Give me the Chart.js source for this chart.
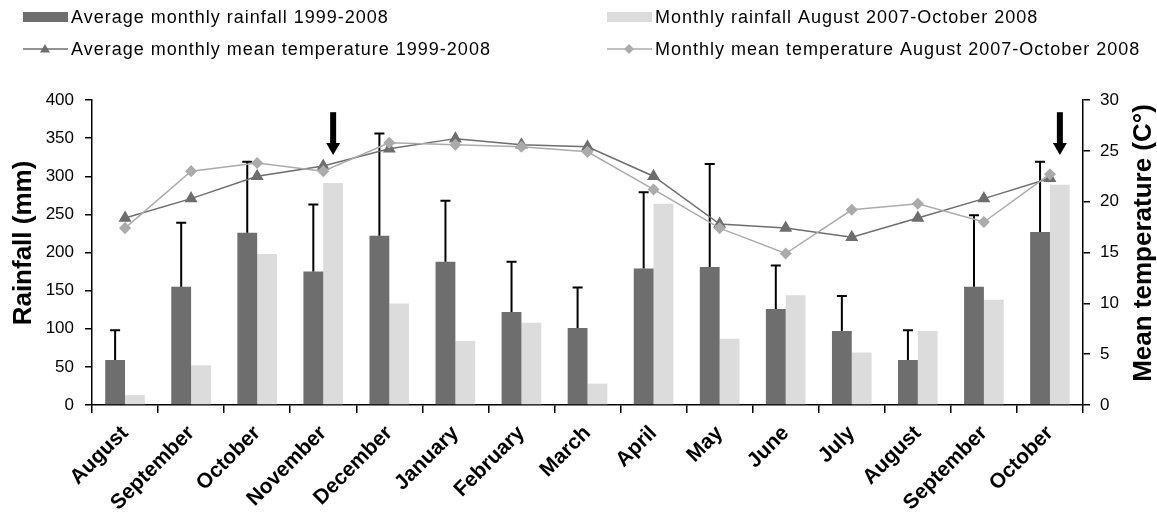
<!DOCTYPE html>
<html>
<head>
<meta charset="utf-8">
<script src="https://cdn.jsdelivr.net/npm/chart.js@4.4.1/dist/chart.umd.min.js"></script>
<style>
  html, body { margin: 0; padding: 0; background: #fff; }
</style>
</head>
<body>
<canvas id="myChart" width="1157" height="518"></canvas>
<script>
var months = ['August', 'September', 'October', 'November', 'December', 'January', 'February',
              'March', 'April', 'May', 'June', 'July', 'August', 'September', 'October'];
var avgRain    = [59, 155, 226, 175, 222, 188, 122, 101, 179, 181, 126, 97, 59, 155, 227];
var avgRainErr = [98, 239, 319, 263, 356, 268, 188, 154, 279, 316, 183, 143, 98, 249, 319];
var rain0708   = [13, 52, 198, 291, 133, 84, 108, 28, 264, 87, 144, 69, 97, 138, 289];
var avgTemp    = [18.4, 20.3, 22.5, 23.5, 25.2, 26.2, 25.6, 25.4, 22.5, 17.8, 17.4, 16.5, 18.4, 20.3, 22.3];
var temp0708   = [17.4, 23.0, 23.8, 23.0, 25.8, 25.6, 25.4, 24.9, 21.2, 17.4, 14.9, 19.2, 19.8, 18.0, 22.7];

// arrows sit above the light bar of these months (index), from/to rainfall value
var arrowMonths = [3, 14];
var arrowTop = 384, arrowTip = 328;

var labelFont = '"Liberation Sans", Arial, sans-serif';

// upper error bars on the dark bars
var errorBars = {
    id: 'errorBars',
    afterDatasetDraw: function(chart, args) {
        if (args.index !== 0) return;
        var ctx = chart.ctx;
        var y = chart.scales.y;
        ctx.save();
        ctx.strokeStyle = '#000';
        ctx.lineWidth = 2;
        args.meta.data.forEach(function(bar, i) {
            var top = y.getPixelForValue(avgRainErr[i]);
            ctx.beginPath();
            ctx.moveTo(bar.x, bar.y);
            ctx.lineTo(bar.x, top);
            ctx.moveTo(bar.x - 5, top);
            ctx.lineTo(bar.x + 5, top);
            ctx.stroke();
        });
        ctx.restore();
    }
};

function marker(ctx, style, x, y, r, color) {
    ctx.fillStyle = color;
    ctx.beginPath();
    if (style == 'triangle') {
        ctx.moveTo(x, y - r);
        ctx.lineTo(x + r, y + r * 0.7);
        ctx.lineTo(x - r, y + r * 0.7);
    } else {
        ctx.moveTo(x, y - r);
        ctx.lineTo(x + r, y);
        ctx.lineTo(x, y + r);
        ctx.lineTo(x - r, y);
    }
    ctx.closePath();
    ctx.fill();
}

// legend, arrows and axis titles
var extras = {
    id: 'extras',
    afterDraw: function(chart) {
        var ctx = chart.ctx;
        var y = chart.scales.y;
        ctx.save();

        // arrows
        var light = chart.getDatasetMeta(1).data;
        ctx.fillStyle = '#000';
        arrowMonths.forEach(function(i) {
            var x = light[i].x;
            var y0 = y.getPixelForValue(arrowTop);
            var y1 = y.getPixelForValue(arrowTip);
            ctx.fillRect(x - 3, y0, 6, y1 - y0 - 11);
            ctx.beginPath();
            ctx.moveTo(x - 7, y1 - 12);
            ctx.lineTo(x + 7, y1 - 12);
            ctx.lineTo(x, y1);
            ctx.closePath();
            ctx.fill();
        });

        // legend
        var ds = chart.data.datasets;
        var items = [[0, 23, 17], [1, 607, 17], [2, 23, 49], [3, 607, 49]];
        ctx.font = '18px ' + labelFont;
        ctx.letterSpacing = '1px';
        ctx.textBaseline = 'middle';
        ctx.textAlign = 'left';
        items.forEach(function(it) {
            var d = ds[it[0]], x = it[1], yy = it[2];
            if (d.type == 'line') {
                ctx.strokeStyle = d.borderColor;
                ctx.lineWidth = 1.5;
                ctx.beginPath();
                ctx.moveTo(x, yy);
                ctx.lineTo(x + 45, yy);
                ctx.stroke();
                marker(ctx, d.pointStyle, x + 22, yy, 5, d.pointBackgroundColor);
            } else {
                ctx.fillStyle = d.backgroundColor;
                ctx.fillRect(x, yy - 5, 45, 10);
            }
            ctx.fillStyle = '#000';
            ctx.fillText(d.label, x + 48, yy + 1);
        });
        ctx.letterSpacing = '0px';

        // axis titles
        ctx.font = 'bold 26px ' + labelFont;
        ctx.textAlign = 'center';
        ctx.fillStyle = '#000';
        ctx.save();
        ctx.translate(24, 243);
        ctx.rotate(-Math.PI / 2);
        ctx.fillText('Rainfall (mm)', 0, 0);
        ctx.restore();
        ctx.save();
        ctx.translate(1144, 243);
        ctx.rotate(-Math.PI / 2);
        ctx.fillText('Mean temperature (C°)', 0, 0);
        ctx.restore();

        ctx.restore();
    }
};

var chartData = {
    labels: months,
    datasets: [{
        label: 'Average monthly rainfall 1999-2008',
        data: avgRain,
        backgroundColor: '#6e6e6e',
        yAxisID: 'y',
        order: 2,
        barPercentage: 1.0,
        categoryPercentage: 0.6
    },
    {
        label: 'Monthly rainfall August 2007-October 2008',
        data: rain0708,
        backgroundColor: '#dcdcdc',
        yAxisID: 'y',
        order: 2,
        barPercentage: 1.0,
        categoryPercentage: 0.6
    },
    {
        type: 'line',
        label: 'Average monthly mean temperature 1999-2008',
        data: avgTemp,
        yAxisID: 'y1',
        order: 1,
        borderColor: '#6e6e6e',
        borderWidth: 1.5,
        pointStyle: 'triangle',
        pointRadius: 6,
        pointBackgroundColor: '#6e6e6e',
        pointBorderColor: '#6e6e6e',
        tension: 0
    },
    {
        type: 'line',
        label: 'Monthly mean temperature August 2007-October 2008',
        data: temp0708,
        yAxisID: 'y1',
        order: 0,
        borderColor: '#ababab',
        borderWidth: 1.5,
        pointStyle: 'rectRot',
        pointRadius: 5,
        pointBackgroundColor: '#ababab',
        pointBorderColor: '#ababab',
        tension: 0
    }]
};

const config = {
    type: 'bar',
    data: chartData,
    plugins: [errorBars, extras],
    options: {
        responsive: false,
        animation: false,
        devicePixelRatio: 1,
        layout: { padding: { top: 100, left: 0, right: 0, bottom: 0 } },
        plugins: {
            legend: { display: false },
            tooltip: { enabled: false }
        },
        scales: {
            x: {
                afterFit: function(s) { s.height = 113; },
                border: { color: '#000', width: 1.5 },
                grid: { drawOnChartArea: false, color: '#000', lineWidth: 1.5, tickLength: 8 },
                ticks: {
                    autoSkip: false,
                    minRotation: 45,
                    maxRotation: 45,
                    color: '#000',
                    padding: 8,
                    font: { family: labelFont, size: 21, weight: 'bold' }
                }
            },
            y: {
                position: 'left',
                min: 0,
                max: 400,
                afterFit: function(s) { s.width = 92; },
                border: { color: '#000', width: 1.5 },
                grid: { drawOnChartArea: false, color: '#000', lineWidth: 1.5, tickLength: 7 },
                ticks: {
                    stepSize: 50,
                    color: '#000',
                    padding: 11,
                    font: { family: labelFont, size: 17 }
                }
            },
            y1: {
                position: 'right',
                min: 0,
                max: 30,
                afterFit: function(s) { s.width = 74; },
                border: { color: '#000', width: 1.5 },
                grid: { drawOnChartArea: false, color: '#000', lineWidth: 1.5, tickLength: 7 },
                ticks: {
                    stepSize: 5,
                    color: '#000',
                    padding: 10,
                    font: { family: labelFont, size: 17 }
                }
            }
        }
    }
};

var myChart = new Chart(document.getElementById('myChart'), config);
</script>
</body>
</html>
